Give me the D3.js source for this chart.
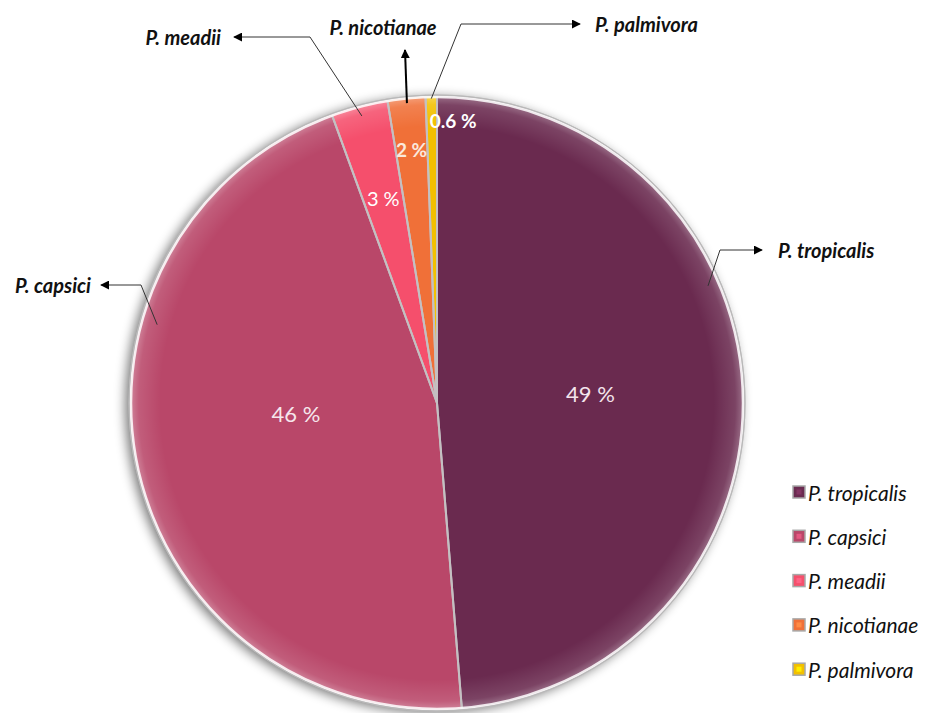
<!DOCTYPE html>
<html><head><meta charset="utf-8">
<script src="https://cdn.jsdelivr.net/npm/d3@7"></script>
<style>body{margin:0;background:#fff}svg{display:block}</style>
</head><body>
<svg id="c" width="926" height="713"></svg>
<script>
// ---- data ----
const categories = ["P. tropicalis","P. capsici","P. meadii","P. nicotianae","P. palmivora"];
const values = [49, 46, 3, 2, 0.6];
const valueLabels = ["49 %","46 %","3 %","2 %","0.6 %"];
const colors = ["#6a2b50","#b94769","#f5506c","#f07038","#f2c000"];

// ---- layout ----
const W=926,H=713, cx=437, cy=403, R=307.5;
const FONT="Lato, 'Open Sans', sans-serif";
const svg=d3.select("#c");
const defs=svg.append("defs");
const f=defs.append("filter").attr("id","sh").attr("x","-20%").attr("y","-20%").attr("width","140%").attr("height","140%");
f.append("feGaussianBlur").attr("in","SourceAlpha").attr("stdDeviation",6).attr("result","b");
f.append("feOffset").attr("in","b").attr("dx",-4).attr("dy",2).attr("result","o");
f.append("feComponentTransfer").attr("in","o").attr("result","o2").append("feFuncA").attr("type","linear").attr("slope",0.55);
const fm=f.append("feMerge"); fm.append("feMergeNode").attr("in","o2"); fm.append("feMergeNode").attr("in","SourceGraphic");

const rg=defs.append("radialGradient").attr("id","bevel").attr("cx","50%").attr("cy","50%").attr("r","50%");
rg.append("stop").attr("offset","0%").attr("stop-color","#fff").attr("stop-opacity",0);
rg.append("stop").attr("offset","90%").attr("stop-color","#fff").attr("stop-opacity",0);
rg.append("stop").attr("offset","97%").attr("stop-color","#fff").attr("stop-opacity",0.12);
rg.append("stop").attr("offset","100%").attr("stop-color","#fff").attr("stop-opacity",0.35);

const g=svg.append("g").attr("transform",`translate(${cx},${cy})`);
const pie=d3.pie().sort(null).value(d=>d)(values);
const arc=d3.arc().innerRadius(0).outerRadius(R);
const gp=g.append("g").attr("filter","url(#sh)");
gp.selectAll("path.s").data(pie).join("path").attr("class","s")
  .attr("d",arc).attr("fill",(d,i)=>colors[i]);
g.append("circle").attr("r",R).attr("fill","url(#bevel)");
g.selectAll("path.sep").data(pie).join("path").attr("class","sep")
  .attr("d",arc).attr("fill","none").attr("stroke","#c4c0c2").attr("stroke-width",2).attr("stroke-linejoin","round");
g.append("circle").attr("r",R-1.5).attr("fill","none").attr("stroke","#fff").attr("stroke-width",2.5).attr("opacity",0.85);
g.append("circle").attr("r",R+0.5).attr("fill","none").attr("stroke","#b8b8b8").attr("stroke-width",1);

// value labels
const lblR=[0.5,0.46,0.69,0.83,0.92];
const lblDA=[-0.02,0.14,0,0,0.03];
const lblStyle=[{s:22,w:400,c:"#f3e4ec"},{s:22,w:400,c:"#f6e6ec"},{s:20,w:400,c:"#fff"},{s:19,w:700,c:"#fbe8dc"},{s:19,w:700,c:"#fff"}];
const lblDX=[0,0,0,0,13];
pie.forEach((d,i)=>{
  const a=(d.startAngle+d.endAngle)/2+lblDA[i];
  const r=R*lblR[i];
  g.append("text").attr("x",r*Math.sin(a)+lblDX[i]).attr("y",-r*Math.cos(a))
   .attr("text-anchor","middle").attr("dominant-baseline","central")
   .attr("font-family",FONT).attr("font-size",lblStyle[i].s)
   .attr("font-weight",lblStyle[i].w).attr("fill",lblStyle[i].c).text(valueLabels[i]);
});

// callouts
const marker=defs.append("marker").attr("id","ar").attr("viewBox","0 0 10 10").attr("refX",9).attr("refY",5)
  .attr("markerWidth",9).attr("markerHeight",9).attr("markerUnits","userSpaceOnUse").attr("orient","auto");
marker.append("path").attr("d","M0,0L10,5L0,10Z").attr("fill","#000");
const call=[
  {t:0.38, r:0.96, elbow:[720,250], tip:[762,250], lx:778, ly:250, anchor:"start"},
  {t:0.67, r:0.945, elbow:[141,285], tip:[101,285], lx:91, ly:285, anchor:"end"},
  {t:0.5, r:0.965, elbow:[310,37], tip:[234,37], lx:221, ly:37, anchor:"end"},
  {t:0.5, r:0.98, elbow:null, tip:[405,50], lx:383, ly:27, anchor:"middle"},
  {t:0.5, r:0.99, elbow:[461,24], tip:[580,24], lx:595, ly:24, anchor:"start"}
];
const cg=svg.append("g");
pie.forEach((d,i)=>{
  const c=call[i];
  const a=d.startAngle+(d.endAngle-d.startAngle)*c.t;
  const p0=[cx+R*c.r*Math.sin(a), cy-R*c.r*Math.cos(a)];
  const pts=[p0]; if(c.elbow) pts.push(c.elbow); pts.push(c.tip);
  const isVert=!c.elbow;
  cg.append("path").attr("d",d3.line()(pts)).attr("fill","none")
    .attr("stroke",isVert?"#000":"#333").attr("stroke-width",isVert?2:1)
    .attr("marker-end","url(#ar)");
  cg.append("text").attr("x",c.lx).attr("y",c.ly).attr("text-anchor",c.anchor)
    .attr("dominant-baseline","central").attr("font-family",FONT)
    .attr("font-size",20).attr("font-weight",700).attr("font-style","italic").attr("fill","#111")
    .text(categories[i]);
});

// legend
const lg=svg.append("g").attr("transform","translate(793,492)");
const li=lg.selectAll("g").data(categories).join("g").attr("transform",(d,i)=>`translate(0,${i*44.3})`);
li.append("rect").attr("x",0).attr("y",-6).attr("width",12).attr("height",12)
  .attr("fill",(d,i)=>colors[i]).attr("stroke","#a8a8a8").attr("stroke-width",1.5);
li.append("rect").attr("x",3.5).attr("y",-2.5).attr("width",5).attr("height",5)
  .attr("fill",(d,i)=>d3.color(colors[i]).brighter(0.6));
li.append("text").attr("x",15).attr("y",0).attr("dominant-baseline","central")
  .attr("font-family",FONT).attr("font-size",21).attr("font-style","italic")
  .attr("fill","#111").text(d=>d);
</script>
</body></html>
